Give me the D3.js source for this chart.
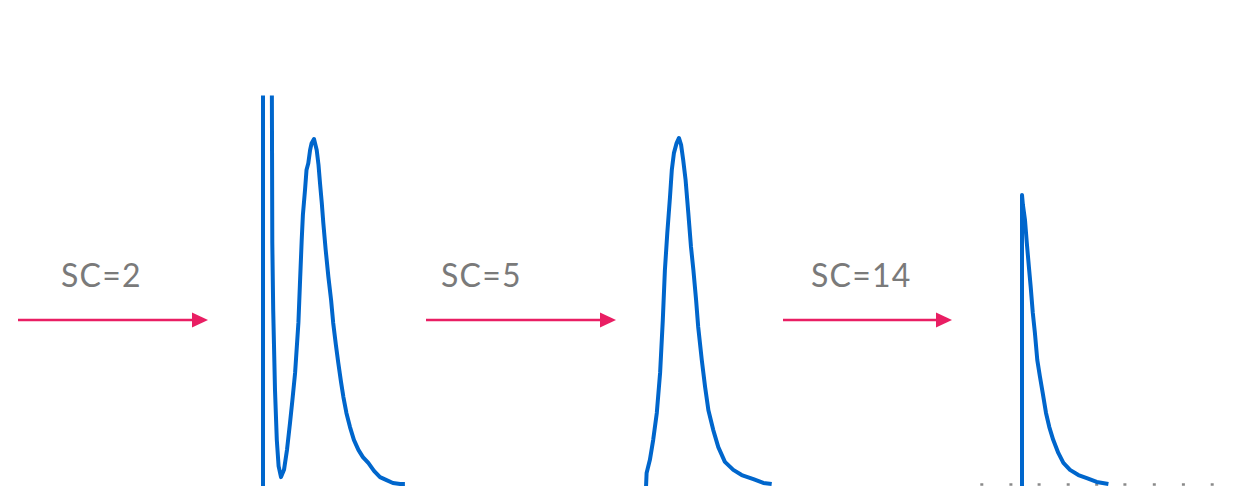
<!DOCTYPE html>
<html><head><meta charset="utf-8">
<script src="https://cdn.jsdelivr.net/npm/d3@7"></script>
<style>html,body{margin:0;padding:0;background:#fff;overflow:hidden}</style>
</head><body>
<svg id="chart" width="1233" height="486"></svg>
<script>
// ---- data (bin index, frequency relative to peak = 100) ----
const labels = ["SC=2", "SC=5", "SC=14"];

const panel1X = [0, 0, 2.9, 3.1, 3.4, 4.0, 4.6, 5.2, 6.0, 7.0, 8.0, 9.0, 9.8, 10.7, 11.8, 12.3, 12.9, 13.3, 14.0, 14.5, 15.1, 15.7, 16.2, 17.0, 17.9, 18.5, 19.0, 19.6, 20.1, 20.9, 21.8, 22.7, 23.4, 24.3, 25.1, 26.0, 26.8, 27.8, 29.0, 30.3, 31.8, 33.3, 35.1, 37.0, 39.0, 41.0, 43.3, 45.7, 47.3];
const panel1Y = [-2, 130, 130, 69.9, 50.4, 27.2, 12.8, 5.2, 2.0, 4.1, 9.9, 17.7, 24.3, 32.2, 46.7, 57.7, 70.7, 78.0, 85.2, 91.0, 93.0, 96.8, 98.8, 100, 96.8, 92.5, 87.2, 81.4, 75.7, 67.8, 60.0, 53.3, 46.7, 40.3, 35.1, 29.6, 25.2, 20.6, 16.5, 12.8, 9.9, 7.8, 6.1, 3.8, 2.0, 1.2, 0.3, 0, 0];

const panel2X = [0, 0.2, 1.3, 2.4, 3.6, 4.7, 5.6, 6.3, 7.1, 8.0, 8.6, 9.3, 10.2, 11.0, 11.7, 12.4, 13.2, 14.1, 15.0, 15.8, 16.7, 17.4, 18.6, 19.7, 20.8, 22.4, 24.1, 26.3, 29.1, 31.9, 35.8, 39.1, 41.9];
const panel2Y = [-1, 3.2, 7.0, 12.8, 20.6, 32.2, 47.5, 62.0, 72.8, 83.2, 91.0, 95.9, 98.8, 100.3, 98.3, 93.9, 88.1, 78.6, 68.7, 62.0, 53.3, 45.5, 35.9, 28.1, 21.4, 15.7, 10.7, 6.4, 4.1, 2.6, 1.4, 0.3, 0];

const panel3X = [0, 0, 0.3, 1.0, 1.6, 2.3, 2.9, 3.6, 4.3, 5.1, 6.0, 6.9, 8.0, 9.1, 10.4, 12.1, 13.8, 16.0, 18.8, 21.6, 24.9, 28.8];
const panel3Y = [-2, 83.8, 80.9, 76.5, 69.9, 62.9, 57.1, 49.6, 43.8, 35.9, 31.0, 26.4, 20.6, 16.5, 12.8, 9.0, 6.1, 4.1, 2.6, 1.7, 0.6, 0];
const panel3Ticks = [-13.4, -3.7, 5.7, 15.4, 24.9, 34.3, 44.1, 53.8, 63.4];

// ---- layout ----
const svg = d3.select("#chart");
const blue = "#0066cc", pink = "#e91e63", grey = "#7a7a7a";
const y = d3.scaleLinear().domain([0, 100]).range([484, 139]);
const panelStarts = [263, 646, 1022];
const xs = panelStarts.map(x0 => d3.scaleLinear().domain([0, 50]).range([x0, x0 + 150]));

svg.append("defs").append("clipPath").attr("id", "clip")
  .append("rect").attr("x", 0).attr("y", 95.5).attr("width", 1233).attr("height", 400);

const g = svg.append("g").attr("clip-path", "url(#clip)");

// dotted baseline ticks in panel 3
g.selectAll("line.tk").data(panel3Ticks).join("line")
  .attr("class", "tk")
  .attr("x1", d => xs[2](d) - 1.5).attr("x2", d => xs[2](d) + 1.5)
  .attr("y1", y(0) + 0.5).attr("y2", y(0) + 0.5)
  .attr("stroke", "#8a8a8a").attr("stroke-width", 2.5);

const series = [[panel1X, panel1Y], [panel2X, panel2Y], [panel3X, panel3Y]];
series.forEach(([X, Y], i) => {
  const pts = X.map((v, k) => [v, Y[k]]);
  const line = d3.line().x(d => xs[i](d[0])).y(d => y(d[1]));
  g.append("path").attr("d", line(pts))
    .attr("fill", "none").attr("stroke", blue)
    .attr("stroke-width", 4).attr("stroke-linejoin", "round");
});

// arrows + labels
const arrowStart = [18, 426, 783];
const arrowEnd = [208, 616, 952];
const labelX = [61, 441, 811];
const arrowY = 320;
labels.forEach((t, i) => {
  svg.append("line").attr("x1", arrowStart[i]).attr("x2", arrowEnd[i] - 12)
    .attr("y1", arrowY).attr("y2", arrowY)
    .attr("stroke", pink).attr("stroke-width", 2.5);
  const tip = arrowEnd[i];
  svg.append("path")
    .attr("d", `M${tip},${arrowY} L${tip - 16},${arrowY - 7.5} L${tip - 16},${arrowY + 7.5} Z`)
    .attr("fill", pink);
  svg.append("text").attr("x", labelX[i]).attr("y", 287)
    .attr("font-family", "Lato, 'Open Sans', sans-serif")
    .attr("font-size", 32).attr("letter-spacing", 1.2).attr("fill", grey)
    .text(t);
});
</script>
</body></html>
